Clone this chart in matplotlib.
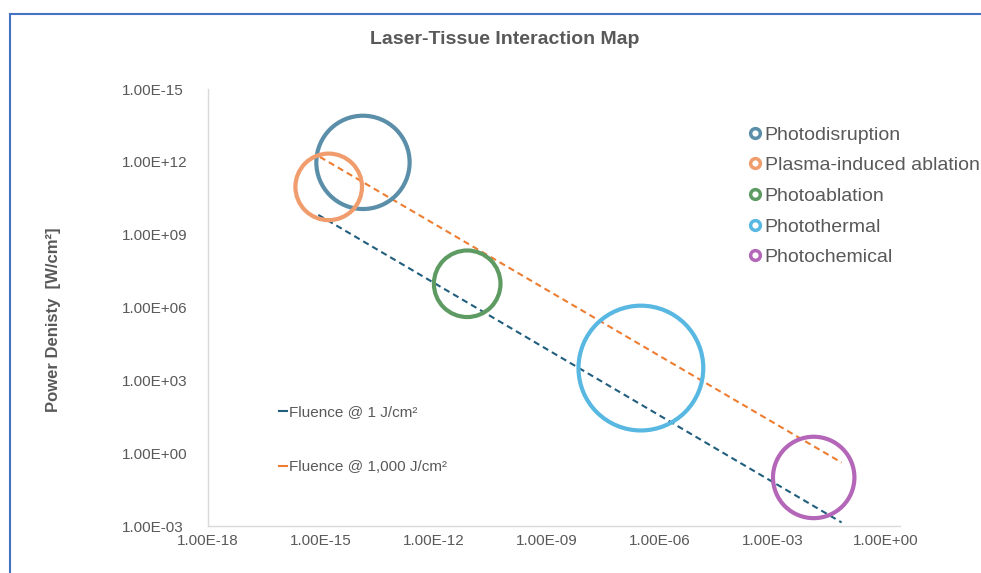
import matplotlib
matplotlib.use("Agg")
import matplotlib.pyplot as plt
from matplotlib.lines import Line2D
from matplotlib.patches import Rectangle
import numpy as np

plt.rcParams['font.family'] = ['Liberation Sans', 'DejaVu Sans']

# ---------------- data ----------------
categories = ["Photodisruption", "Plasma-induced ablation", "Photoablation",
              "Photothermal", "Photochemical"]
exposure_time = [1.3e-14, 1.6e-15, 7.6e-12, 3.1e-7, 1.2e-2]      # s
power_density = [9.5e11, 9.3e10, 9.5e6, 3.2e3, 1.0e-1]           # W/cm2
bubble_size = [2180, 1110, 1110, 3900, 1660]

fluence_names = ["Fluence @ 1 J/cm²", "Fluence @ 1,000 J/cm²"]
fluence_x = [[8.5e-16, 6.6e-2], [9.3e-16, 6.6e-2]]
fluence_y = [[6.5e9, 1.4e-3], [1.6e12, 4.1e-1]]

x_ticks = [1e-18, 1e-15, 1e-12, 1e-9, 1e-6, 1e-3, 1e0]
x_tick_labels = ["1.00E-18", "1.00E-15", "1.00E-12", "1.00E-09",
                 "1.00E-06", "1.00E-03", "1.00E+00"]
y_ticks = [1e-3, 1e0, 1e3, 1e6, 1e9, 1e12, 1e15]
y_tick_labels = ["1.00E-03", "1.00E+00", "1.00E+03", "1.00E+06",
                 "1.00E+09", "1.00E+12", "1.00E-15"]

# ---------------- style ----------------
bubble_colors = ["#5A8EA9", "#F09C6C", "#5E9B63", "#58B8E2", "#B466B8"]
line_colors = ["#215E7E", "#ED7D31"]
gray = "#595959"

W, H = 981, 573
fig = plt.figure(figsize=(W / 100, H / 100), dpi=100)
ax = fig.add_axes([208 / W, 1 - 526 / H, (900 - 208) / W, (526 - 89) / H])

ax.set_xscale("log")
ax.set_yscale("log")
ax.set_xlim(1e-18, 10 ** 0.37)
ax.set_ylim(1e-3, 1e15)

# fluence lines
for xs, ys, c, name in zip(fluence_x, fluence_y, line_colors, fluence_names):
    ax.plot(xs, ys, color=c, lw=1.5, ls=(0, (3, 2)), zorder=2)

# bubbles
for x, y, s, c in zip(exposure_time, power_density, bubble_size, bubble_colors):
    ax.scatter([x], [y], s=s * 2.07, facecolors="none", edgecolors=c,
               linewidths=3.0, zorder=3)

ax.set_xticks(x_ticks)
ax.set_xticklabels(x_tick_labels)
ax.set_yticks(y_ticks)
ax.set_yticklabels(y_tick_labels)
ax.minorticks_off()
ax.tick_params(axis="both", length=0, labelsize=11, labelcolor=gray)
ax.tick_params(axis="x", pad=6)
ax.tick_params(axis="y", pad=62)
for lab in ax.get_yticklabels():
    lab.set_horizontalalignment("left")

for side in ["top", "right"]:
    ax.spines[side].set_visible(False)
for side in ["left", "bottom"]:
    ax.spines[side].set_color("#D9D9D9")
    ax.spines[side].set_linewidth(1.0)

ax.set_ylabel("Power Denisty  [W/cm²]", fontsize=12, fontweight="bold",
              color=gray)
ax.yaxis.set_label_coords(61 / W, 1 - 320 / H, transform=fig.transFigure)

fig.text(505 / W, 1 - 40 / H, "Laser-Tissue Interaction Map", ha="center",
         va="center", fontsize=14, fontweight="bold", color=gray)

# legend for bubbles
handles1 = [Line2D([], [], ls="none", marker="o", markersize=7,
                   markerfacecolor="white", markeredgecolor=c,
                   markeredgewidth=2.5) for c in bubble_colors]
leg1 = fig.legend(handles1, categories, loc="upper left",
                  bbox_to_anchor=(749 / W, 1 - 126 / H), frameon=False,
                  fontsize=14, labelcolor=gray, handlelength=0.6,
                  handletextpad=0.2, labelspacing=0.67, borderpad=0,
                  borderaxespad=0)

# legend for fluence lines
handles2 = [Line2D([], [], color=c, lw=1.5) for c in line_colors]
leg2 = fig.legend(handles2, fluence_names, loc="upper left",
                  bbox_to_anchor=(279 / W, 1 - 405 / H), frameon=False,
                  fontsize=11, labelcolor=gray, handlelength=0.55,
                  handletextpad=0.1, labelspacing=2.71, borderpad=0,
                  borderaxespad=0)

# chart border
fig.patches.append(Rectangle((9.5 / W, -0.1), 1.2, 1 - 13.5 / H + 0.1,
                             transform=fig.transFigure, fill=False,
                             edgecolor="#4472C4", lw=1.5))

fig.savefig("out.png", dpi=100)
